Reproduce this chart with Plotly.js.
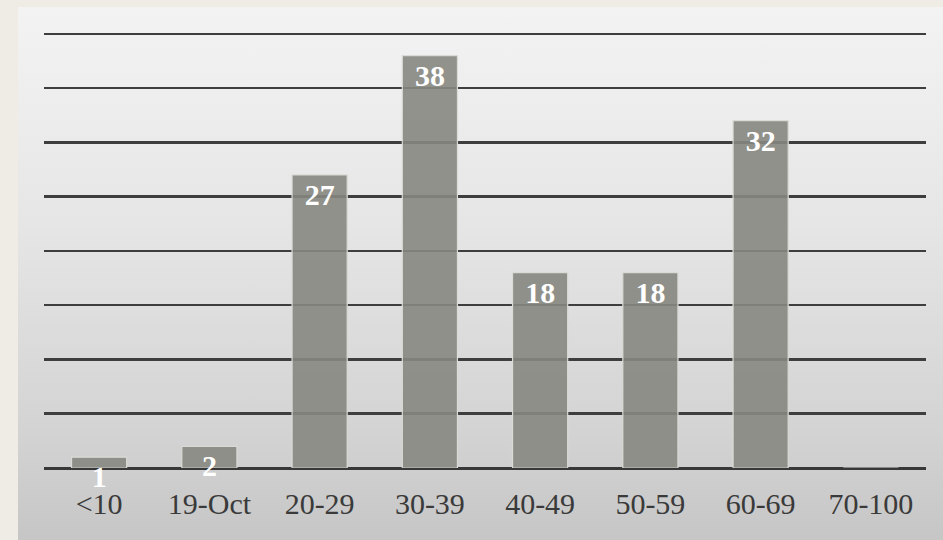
<!DOCTYPE html>
<html>
<head>
<meta charset="utf-8">
<script src="https://cdn.plot.ly/plotly-3.0.1.min.js"></script>
<style>
  html, body { margin: 0; padding: 0; background: #efece5; }
  #wrap { position: relative; width: 943px; height: 540px; overflow: hidden; }
  #panel { position: absolute; left: 18px; top: 7px; width: 925px; height: 533px;
           background: linear-gradient(to bottom, #f3f3f3 0%, #e6e6e6 40%, #d3d3d3 80%, #c6c6c6 100%); }
  #chart { position: absolute; left: 0; top: 0; width: 943px; height: 540px; }
</style>
</head>
<body>
<div id="wrap">
  <div id="panel"></div>
  <div id="chart"></div>
</div>
<script>
const categories = ['&lt;10', '19-Oct', '20-29', '30-39', '40-49', '50-59', '60-69', '70-100'];
const counts = [1, 2, 27, 38, 18, 18, 32, 0];
const labels = counts.map(v => v === 0 ? '' : String(v));

const trace = {
  type: 'bar',
  x: categories,
  y: counts,
  text: labels,
  textposition: 'inside',
  insidetextanchor: 'end',
  constraintext: 'none',
  textangle: 0,
  cliponaxis: false,
  textfont: { family: 'Liberation Serif, Times New Roman, serif', size: 30, color: '#ffffff', weight: 'bold' },
  marker: { color: 'rgba(135,135,129,0.9)', line: { color: '#dadad6', width: 1.2 } },
  hoverinfo: 'skip'
};

const layout = {
  width: 943, height: 540,
  margin: { l: 44, r: 17, t: 23, b: 72 },
  paper_bgcolor: 'rgba(0,0,0,0)',
  plot_bgcolor: 'rgba(0,0,0,0)',
  bargap: 0.5,
  showlegend: false,
  xaxis: {
    type: 'category',
    showgrid: false, showline: false, zeroline: false,
    ticks: '', ticklabelstandoff: 15,
    tickfont: { family: 'Liberation Serif, Times New Roman, serif', size: 30, color: '#3a3a3a' }
  },
  yaxis: {
    range: [0, 41], tick0: 0, dtick: 5,
    showticklabels: false, ticks: '',
    showgrid: true, gridcolor: '#3e3e3e', gridwidth: 2.5,
    zeroline: true, zerolinecolor: '#383838', zerolinewidth: 3,
    showline: false, fixedrange: true
  }
};

Plotly.newPlot('chart', [trace], layout, { displayModeBar: false, staticPlot: true });
</script>
</body>
</html>
